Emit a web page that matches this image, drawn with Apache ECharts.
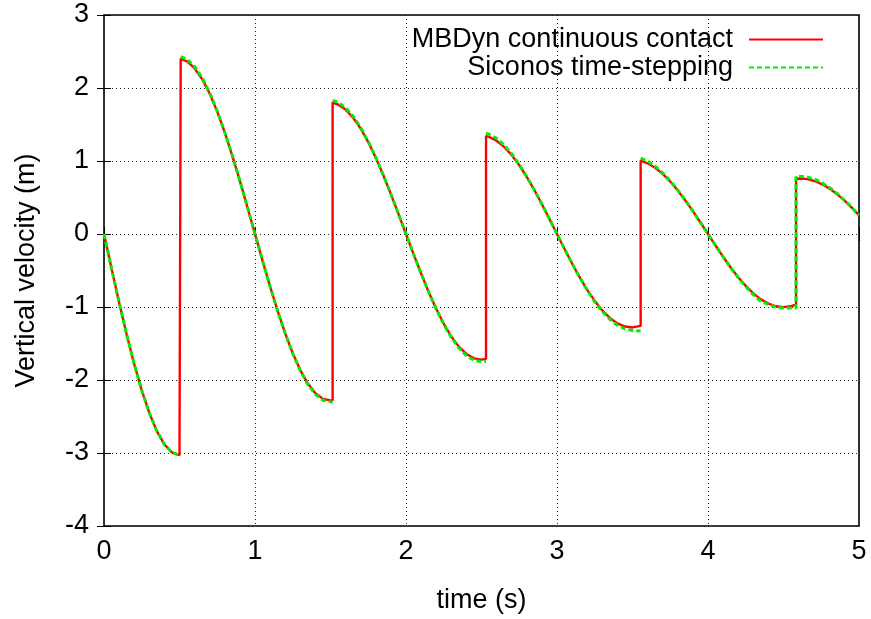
<!DOCTYPE html>
<html>
<head>
<meta charset="utf-8">
<script src="https://cdn.jsdelivr.net/npm/echarts@6/dist/echarts.min.js"></script>
<style>
  html, body { margin: 0; padding: 0; background: #fff; }
  #chart { width: 871px; height: 619px; }
</style>
</head>
<body>
<div id="chart"></div>
<script>
// Vertical velocity of the bouncing body, MBDyn continuous contact model
const mbdynT = [
  0, 0.05, 0.1, 0.15, 0.2, 0.25, 0.3, 0.35, 0.4, 0.45, 0.5, 0.508,
  0.508, 0.55, 0.6, 0.65, 0.7, 0.75, 0.8, 0.85, 0.9, 0.95, 1.0, 1.05, 1.1, 1.15, 1.2, 1.25, 1.3, 1.35, 1.4, 1.45, 1.5, 1.514,
  1.514, 1.55, 1.6, 1.65, 1.7, 1.75, 1.8, 1.85, 1.9, 1.95, 2.0, 2.05, 2.1, 2.15, 2.2, 2.25, 2.3, 2.35, 2.4, 2.45, 2.5, 2.53,
  2.53, 2.55, 2.6, 2.65, 2.7, 2.75, 2.8, 2.85, 2.9, 2.95, 3.0, 3.05, 3.1, 3.15, 3.2, 3.25, 3.3, 3.35, 3.4, 3.45, 3.5, 3.554,
  3.554, 3.6, 3.65, 3.7, 3.75, 3.8, 3.85, 3.9, 3.95, 4.0, 4.05, 4.1, 4.15, 4.2, 4.25, 4.3, 4.35, 4.4, 4.45, 4.5, 4.55, 4.583,
  4.583, 4.61, 4.66, 4.71, 4.76, 4.81, 4.86, 4.91, 4.96, 5.0
];
const mbdynV = [
  0, -0.474, -0.936, -1.376, -1.781, -2.143, -2.451, -2.7, -2.882, -2.993, -3.03, -3.03,
  2.40, 2.365, 2.271, 2.122, 1.922, 1.676, 1.39, 1.071, 0.727, 0.367, 0, -0.365, -0.719, -1.054, -1.361, -1.633, -1.864, -2.048, -2.18, -2.258, -2.28, -2.279,
  1.80, 1.774, 1.704, 1.593, 1.443, 1.259, 1.044, 0.804, 0.546, 0.276, 0, -0.275, -0.541, -0.794, -1.025, -1.23, -1.404, -1.543, -1.643, -1.703, -1.72, -1.71,
  1.342, 1.33, 1.277, 1.193, 1.081, 0.942, 0.781, 0.602, 0.408, 0.206, 0, -0.205, -0.404, -0.592, -0.765, -0.917, -1.047, -1.15, -1.224, -1.268, -1.28, -1.258,
  1.005, 0.969, 0.907, 0.823, 0.718, 0.597, 0.46, 0.313, 0.158, 0, -0.158, -0.312, -0.458, -0.592, -0.711, -0.813, -0.895, -0.954, -0.99, -1.001, -0.988, -0.966,
  0.757, 0.76, 0.751, 0.723, 0.677, 0.615, 0.537, 0.447, 0.345, 0.257
];

// Siconos time-stepping; null marks where the output has no segment across an impact
const siconosT = [
  0, 0.05, 0.1, 0.15, 0.2, 0.25, 0.3, 0.35, 0.4, 0.45, 0.5, 0.508,
  0.508,
  0.508, 0.55, 0.6, 0.65, 0.7, 0.75, 0.8, 0.85, 0.9, 0.95, 1.0, 1.05, 1.1, 1.15, 1.2, 1.25, 1.3, 1.35, 1.4, 1.45, 1.5, 1.514,
  1.514,
  1.514, 1.55, 1.6, 1.65, 1.7, 1.75, 1.8, 1.85, 1.9, 1.95, 2.0, 2.05, 2.1, 2.15, 2.2, 2.25, 2.3, 2.35, 2.4, 2.45, 2.5, 2.53,
  2.53,
  2.53, 2.55, 2.6, 2.65, 2.7, 2.75, 2.8, 2.85, 2.9, 2.95, 3.0, 3.05, 3.1, 3.15, 3.2, 3.25, 3.3, 3.35, 3.4, 3.45, 3.5, 3.554,
  3.554,
  3.554, 3.6, 3.65, 3.7, 3.75, 3.8, 3.85, 3.9, 3.95, 4.0, 4.05, 4.1, 4.15, 4.2, 4.25, 4.3, 4.35, 4.4, 4.45, 4.5, 4.55, 4.583,
  4.583, 4.61, 4.66, 4.71, 4.76, 4.81, 4.86, 4.91, 4.96, 5.0
];
const siconosV = [
  0, -0.474, -0.936, -1.376, -1.781, -2.143, -2.451, -2.7, -2.882, -2.993, -3.03, -3.035,
  null,
  2.43, 2.393, 2.296, 2.141, 1.935, 1.684, 1.393, 1.072, 0.727, 0.367, 0, -0.365, -0.719, -1.055, -1.363, -1.638, -1.873, -2.061, -2.197, -2.277, -2.3, -2.3,
  null,
  1.83, 1.802, 1.729, 1.612, 1.456, 1.267, 1.047, 0.805, 0.546, 0.276, 0, -0.275, -0.541, -0.795, -1.028, -1.238, -1.417, -1.562, -1.668, -1.731, -1.75, -1.745,
  null,
  1.382, 1.368, 1.31, 1.218, 1.098, 0.952, 0.785, 0.604, 0.408, 0.206, 0, -0.205, -0.404, -0.594, -0.77, -0.93, -1.062, -1.17, -1.25, -1.3, -1.322, -1.33,
  null,
  1.04, 0.998, 0.929, 0.838, 0.727, 0.601, 0.461, 0.313, 0.158, 0, -0.158, -0.312, -0.46, -0.597, -0.723, -0.832, -0.923, -0.964, -1.002, -1.014, -1.015, -1.015,
  0.79, 0.79, 0.779, 0.748, 0.696, 0.628, 0.545, 0.45, 0.346, 0.257
];

const xTicks = { min: 0, max: 5, step: 1 };
const yTicks = { min: -4, max: 3, step: 1 };

const FONT = '"Liberation Sans", Arial, Helvetica, sans-serif';
const FS = 27;

const pairs = (ts, vs) => ts.map((t, i) => [t, vs[i]]);

const chart = echarts.init(document.getElementById('chart'), null, { renderer: 'canvas' });

const tickStyle = { inside: true, length: 7, lineStyle: { color: '#000', width: 1 } };
const gridDots = { show: true, lineStyle: { color: '#222', width: 1, type: [1, 3] } };

// legend entries: plain line samples to the right of right-aligned text
const legendBase = {
  right: 47, padding: 0,
  orient: 'vertical', align: 'right',
  itemWidth: 74, itemHeight: 14,
  itemStyle: { opacity: 0, borderWidth: 0 },
  textStyle: { fontSize: FS, color: '#000', fontFamily: FONT, padding: [0, 11, 0, 0] }
};

chart.setOption({
  animation: false,
  backgroundColor: '#fff',
  textStyle: { fontFamily: FONT },
  grid: {
    left: 104, right: 12, top: 15, bottom: 90,
    show: true, borderColor: '#000', borderWidth: 1.6, backgroundColor: 'transparent'
  },
  legend: [
    Object.assign({}, legendBase, { data: ['MBDyn continuous contact'], top: 26 }),
    Object.assign({}, legendBase, { data: ['Siconos time-stepping'], top: 54 })
  ],
  xAxis: [
    {
      type: 'value', min: xTicks.min, max: xTicks.max, interval: xTicks.step,
      name: 'time (s)', nameLocation: 'middle', nameGap: 61,
      nameTextStyle: { fontSize: FS, color: '#000', fontFamily: FONT },
      axisLine: { show: false },
      axisTick: tickStyle,
      axisLabel: { fontSize: FS, color: '#000', margin: 12, fontFamily: FONT },
      splitLine: gridDots
    },
    {
      type: 'value', position: 'top', min: xTicks.min, max: xTicks.max, interval: xTicks.step,
      axisLine: { show: false }, axisTick: tickStyle,
      axisLabel: { show: false }, splitLine: { show: false }
    }
  ],
  yAxis: [
    {
      type: 'value', min: yTicks.min, max: yTicks.max, interval: yTicks.step,
      name: 'Vertical velocity (m)', nameLocation: 'middle', nameGap: 64, nameRotate: 90,
      nameTextStyle: { fontSize: FS, color: '#000', fontFamily: FONT },
      axisLine: { show: false },
      axisTick: tickStyle,
      axisLabel: { fontSize: FS, color: '#000', margin: 15, fontFamily: FONT },
      splitLine: gridDots
    },
    {
      type: 'value', position: 'right', min: yTicks.min, max: yTicks.max, interval: yTicks.step,
      axisLine: { show: false }, axisTick: tickStyle,
      axisLabel: { show: false }, splitLine: { show: false }
    }
  ],
  series: [
    {
      name: 'MBDyn continuous contact',
      type: 'line',
      data: pairs(mbdynT, mbdynV),
      symbol: 'none',
      clip: true,
      color: '#ff0000',
      lineStyle: { color: '#ff0000', width: 2.4 },
      z: 3
    },
    {
      name: 'Siconos time-stepping',
      type: 'line',
      data: pairs(siconosT, siconosV),
      symbol: 'none',
      connectNulls: false,
      clip: true,
      color: '#00ee00',
      lineStyle: { color: '#00ee00', width: 3, type: [5, 3] },
      z: 4
    }
  ]
});
</script>
</body>
</html>
